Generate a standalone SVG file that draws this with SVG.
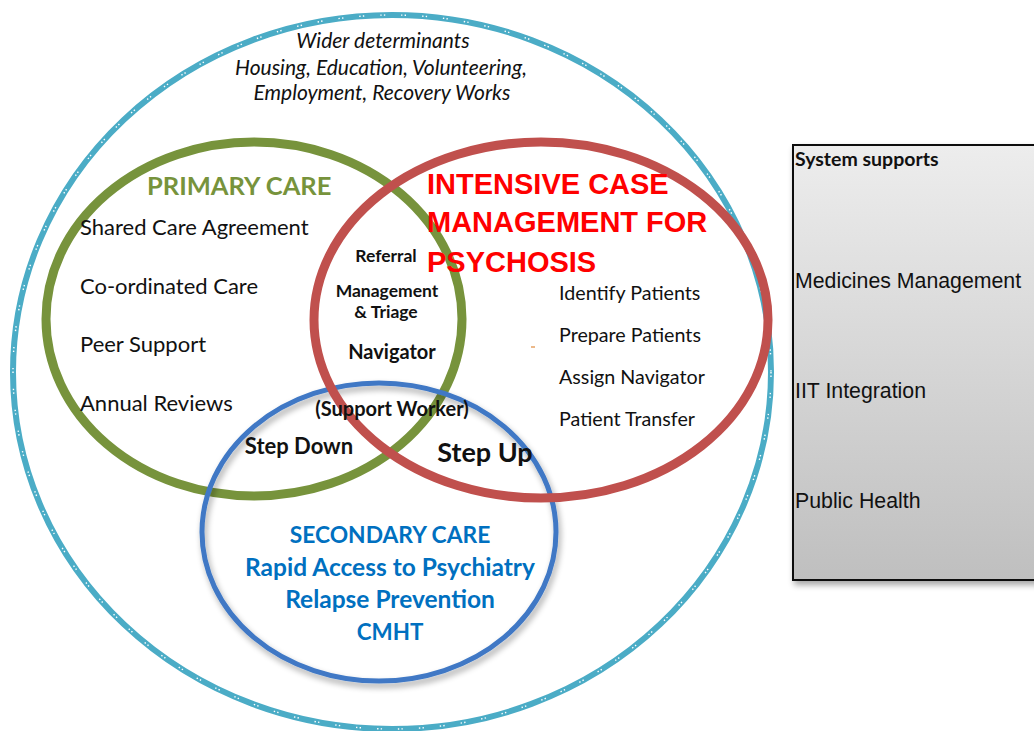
<svg xmlns="http://www.w3.org/2000/svg" width="1034" height="731" viewBox="0 0 1034 731">
  <defs>
    <linearGradient id="boxFill" x1="0" y1="0" x2="0" y2="1">
      <stop offset="0" stop-color="#ededed"/>
      <stop offset="1" stop-color="#bfbfbf"/>
    </linearGradient>
    <filter id="shadow" x="-10%" y="-10%" width="130%" height="130%">
      <feGaussianBlur in="SourceAlpha" stdDeviation="3"/>
      <feOffset dx="2" dy="4" result="b"/>
      <feComponentTransfer><feFuncA type="linear" slope="0.35"/></feComponentTransfer>
      <feMerge><feMergeNode/><feMergeNode in="SourceGraphic"/></feMerge>
    </filter>
    <style>
      .body { font-family: Lato, "Open Sans", sans-serif; fill: #111; }
      .item { font-size: 22px; }
      .mid { font-weight: bold; text-anchor: middle; }
      .icm { font-family: "Liberation Sans", Arial, sans-serif; font-weight: bold; font-size: 29px; fill: #ff0000; }
      .sec { font-family: Lato, "Open Sans", sans-serif; font-weight: bold; font-size: 24.5px; fill: #0070c0; text-anchor: middle; }
      .sec.caps { font-size: 22.8px; }
      .sec.short { font-size: 22.4px; }
      .sup { font-family: "Liberation Sans", Arial, sans-serif; font-size: 21.3px; fill: #111; }
    </style>
  </defs>
  <rect width="1034" height="731" fill="#ffffff"/>

  <!-- outer ring: wider determinants -->
  <g id="outer">
    <ellipse cx="392" cy="372" rx="379" ry="357" fill="none" stroke="#4bacc6" stroke-width="6"/>
    <ellipse cx="392" cy="372" rx="379" ry="357" fill="none" stroke="#ffffff" stroke-width="1.4" stroke-dasharray="1.4 2.2 1.4 16"/>
    <g class="body" font-style="italic" font-size="21" text-anchor="middle">
      <text x="383" y="48">Wider determinants</text>
      <text x="381" y="75">Housing, Education, Volunteering,</text>
      <text x="382" y="100">Employment, Recovery Works</text>
    </g>
  </g>

  <!-- primary care -->
  <g id="primary">
    <ellipse cx="254" cy="319" rx="208" ry="177" fill="none" stroke="#77933c" stroke-width="9"/>
    <text x="147" y="195" font-family="Lato, 'Open Sans', sans-serif" font-weight="bold" font-size="25.5" fill="#77933c">PRIMARY CARE</text>
    <g class="body item">
      <text x="80" y="235">Shared Care Agreement</text>
      <text x="80" y="294">Co-ordinated Care</text>
      <text x="80" y="352">Peer Support</text>
      <text x="80" y="411">Annual Reviews</text>
    </g>
  </g>

  <!-- secondary care -->
  <g id="secondary">
    <ellipse cx="379" cy="532" rx="177" ry="149" fill="none" stroke="#3f78c5" stroke-width="5" filter="url(#shadow)"/>
    <text class="sec caps" x="390" y="543">SECONDARY CARE</text>
    <text class="sec" x="390" y="576">Rapid Access to Psychiatry</text>
    <text class="sec" x="390" y="608">Relapse Prevention</text>
    <text class="sec short" x="390" y="640">CMHT</text>
  </g>

  <!-- intensive case management -->
  <g id="intensive">
    <ellipse cx="541" cy="320" rx="227" ry="178" fill="none" stroke="#c0504d" stroke-width="9"/>
    <text class="icm" x="427" y="194">INTENSIVE CASE</text>
    <text class="icm" x="427" y="232">MANAGEMENT FOR</text>
    <text class="icm" x="427" y="272">PSYCHOSIS</text>
    <g class="body" font-size="19.7">
      <text x="559" y="300">Identify Patients</text>
      <text x="559" y="342">Prepare Patients</text>
      <text x="559" y="384">Assign Navigator</text>
      <text x="559" y="426">Patient Transfer</text>
    </g>
    <line x1="531" y1="347" x2="535" y2="347" stroke="#e08a3c" stroke-width="1.2"/>
  </g>

  <!-- shared overlap labels -->
  <g id="overlap" class="body mid">
    <text x="386" y="262" font-size="17.5">Referral</text>
    <text x="387" y="297" font-size="17.5">Management</text>
    <text x="386" y="318" font-size="17.5">&amp; Triage</text>
    <text x="392" y="359" font-size="20">Navigator</text>
    <text x="392" y="416" font-size="20">(Support Worker)</text>
    <text x="299" y="454" font-size="22">Step Down</text>
    <text x="485" y="462" font-size="27">Step Up</text>
  </g>

  <!-- system supports panel -->
  <g id="supports">
    <rect x="793" y="145" width="250" height="435" fill="url(#boxFill)" stroke="#111" stroke-width="2" filter="url(#shadow)"/>
    <text x="795" y="166" font-family="Lato, 'Open Sans', sans-serif" font-weight="bold" font-size="19.5" fill="#111">System supports</text>
    <text class="sup" x="795" y="288">Medicines Management</text>
    <text class="sup" x="795" y="398">IIT Integration</text>
    <text class="sup" x="795" y="508">Public Health</text>
  </g>
</svg>
